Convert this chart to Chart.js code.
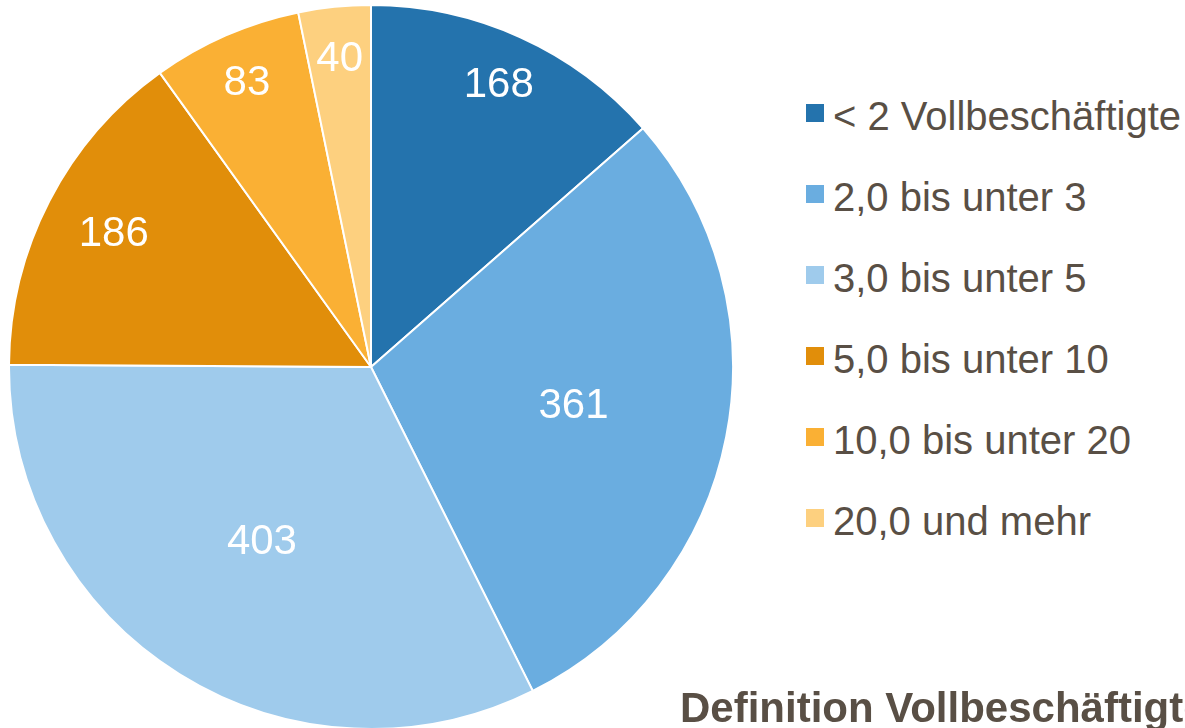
<!DOCTYPE html>
<html lang="de">
<head>
<meta charset="utf-8">
<script src="https://cdn.jsdelivr.net/npm/chart.js@4/dist/chart.umd.min.js"></script>
<style>
  html, body { margin: 0; padding: 0; background: #fff; overflow: hidden; }
  body { width: 1185px; height: 728px; position: relative; font-family: "Liberation Sans", Arial, sans-serif; color: #594f45; }
  #chartBox { position: absolute; left: 0; top: 0; width: 742px; height: 734px; }
  #legend { position: absolute; left: 806px; top: 0; }
  .legend-row { position: absolute; left: 0; height: 40px; display: flex; align-items: center; white-space: nowrap; font-size: 40px; line-height: 40px; }
  .legend-box { width: 18px; height: 18px; margin-right: 9px; transform: translateY(-3px); }
  #note { position: absolute; left: 680px; top: 685px; font-size: 42px; font-weight: bold; white-space: nowrap; line-height: 46px; }
</style>
</head>
<body>
<div id="chartBox"><canvas id="pieChart"></canvas></div>
<div id="legend"></div>
<div id="note">Definition Vollbeschäftigte</div>

<script>
// Betriebe nach Anzahl Vollbeschäftigte
const categories = ['< 2 Vollbeschäftigte', '2,0 bis unter 3', '3,0 bis unter 5', '5,0 bis unter 10', '10,0 bis unter 20', '20,0 und mehr'];
const values = [168, 361, 403, 186, 83, 40];
const colors = ['#2473ad', '#6aade0', '#9fcbec', '#e18e0a', '#fab034', '#fdd07f'];

// Zahlen in die Segmente schreiben
const sliceLabels = {
    id: 'sliceLabels',
    afterDatasetsDraw(chart) {
        const ctx = chart.ctx;
        const meta = chart.getDatasetMeta(0);
        const total = values.reduce((a, b) => a + b, 0);
        ctx.save();
        ctx.fillStyle = '#ffffff';
        ctx.font = '42px "Liberation Sans", Arial, sans-serif';
        ctx.textAlign = 'center';
        ctx.textBaseline = 'middle';
        meta.data.forEach((arc, i) => {
            const mid = (arc.startAngle + arc.endAngle) / 2;
            const share = values[i] / total;
            let f = 0.855;
            if (share > 0.25) f = 0.57;
            else if (share > 0.14) f = 0.8;
            const r = arc.outerRadius * f;
            const x = arc.x + Math.cos(mid) * r;
            const y = arc.y + Math.sin(mid) * r;
            ctx.fillText(String(values[i]), x, y);
        });
        ctx.restore();
    }
};

new Chart(document.getElementById('pieChart'), {
    type: 'pie',
    data: {
        labels: categories,
        datasets: [{
            data: values,
            backgroundColor: colors,
            borderColor: '#ffffff',
            borderWidth: 2
        }]
    },
    options: {
        responsive: true,
        maintainAspectRatio: false,
        animation: false,
        radius: 362,
        layout: { padding: 0 },
        plugins: {
            legend: { display: false },
            tooltip: { enabled: false }
        }
    },
    plugins: [sliceLabels]
});

// Legende
const legend = document.getElementById('legend');
categories.forEach((label, i) => {
    const row = document.createElement('div');
    row.className = 'legend-row';
    row.style.top = (96 + 81 * i) + 'px';
    row.innerHTML = `<div class="legend-box" style="background:${colors[i]}"></div><span>${label.replace('<', '&lt;')}</span>`;
    legend.appendChild(row);
});
</script>
</body>
</html>
